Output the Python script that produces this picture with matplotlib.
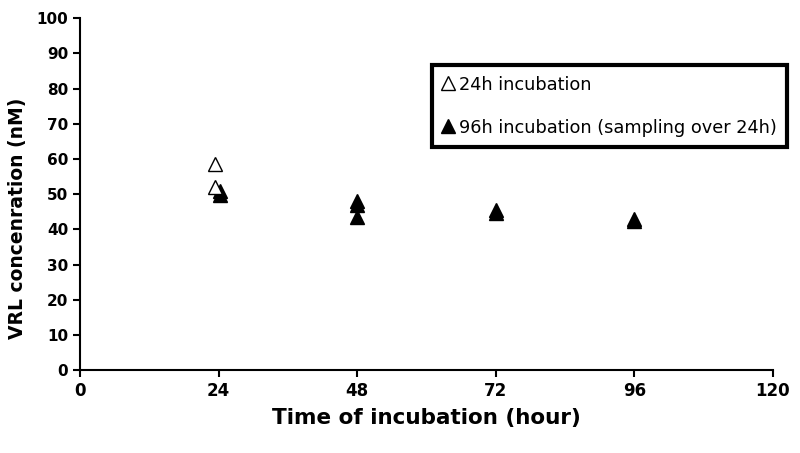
import matplotlib
matplotlib.use("Agg")
import matplotlib.pyplot as plt
from matplotlib.lines import Line2D

plt.rcParams['font.family'] = ['DejaVu Sans']

# 24h incubation (open triangles)
open_x = [23.3, 23.3]
open_y = [58.5, 52.0]
# 96h incubation, sampling over 24h (filled triangles)
filled_x = [24.3, 24.3, 48, 48, 48, 72, 72, 96, 96]
filled_y = [51.0, 49.8, 48.0, 47.0, 43.5, 45.5, 44.5, 43.0, 42.5]

xticks = [0, 24, 48, 72, 96, 120]
yticks = list(range(0, 101, 10))

fig = plt.figure(figsize=(8, 4.53), dpi=100)
ax = fig.add_axes([0.1, 0.183, 0.866, 0.777])

ax.plot(filled_x, filled_y, linestyle='none', marker='^', markersize=10.5,
        markerfacecolor='black', markeredgecolor='black', markeredgewidth=1)
ax.plot(open_x, open_y, linestyle='none', marker='^', markersize=10.5,
        markerfacecolor='white', markeredgecolor='black', markeredgewidth=1)

ax.set_xlim(0, 120)
ax.set_ylim(0, 100)
ax.set_xticks(xticks)
ax.set_yticks(yticks)
for s in ['top', 'right']:
    ax.spines[s].set_visible(False)
for s in ['left', 'bottom']:
    ax.spines[s].set_linewidth(1.5)
ax.tick_params(direction='out', length=5, width=1.5)
for lab in ax.get_xticklabels():
    lab.set_fontweight('bold'); lab.set_fontsize(12)
for lab in ax.get_yticklabels():
    lab.set_fontweight('bold'); lab.set_fontsize(11)

ax.set_xlabel('Time of incubation (hour)', fontsize=15.5, fontweight='bold', labelpad=6)
ax.set_ylabel('VRL concenration (nM)', fontsize=13.5, fontweight='bold')
ax.yaxis.set_label_coords(-0.077, 0.43)

handles = [
    Line2D([], [], linestyle='none', marker='^', markersize=10,
           markerfacecolor='white', markeredgecolor='black'),
    Line2D([], [], linestyle='none', marker='^', markersize=10,
           markerfacecolor='black', markeredgecolor='black'),
]
leg = ax.legend(handles, ['24h incubation', '96h incubation (sampling over 24h)'],
                loc='upper left', bbox_to_anchor=(432/800, 1 - 65/453),
                bbox_transform=fig.transFigure, borderaxespad=0,
                fontsize=12.8, frameon=True,
                fancybox=False, edgecolor='black', handlelength=0.6,
                handletextpad=0.3, labelspacing=1.4, borderpad=0.6)
leg.get_frame().set_linewidth(3)
leg.get_frame().set_alpha(1)

fig.savefig('out.png', dpi=100)
